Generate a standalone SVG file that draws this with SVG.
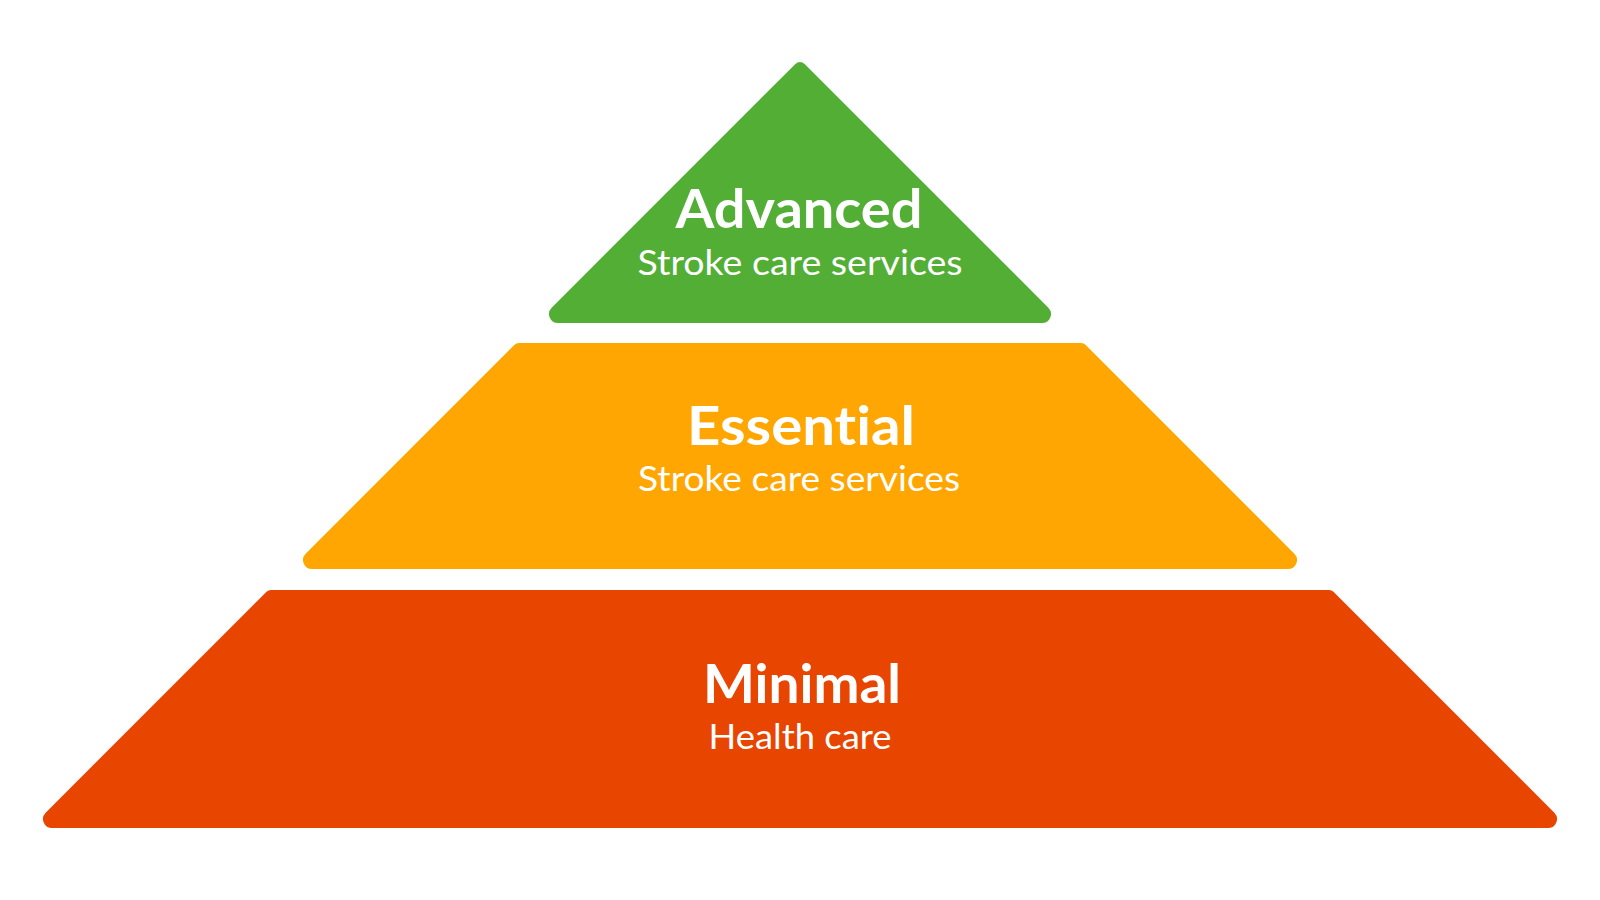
<svg xmlns="http://www.w3.org/2000/svg" width="1600" height="900" viewBox="0 0 1600 900">
  <style>
    text { font-variant-ligatures: none; font-feature-settings: "liga" 0, "clig" 0, "dlig" 0; }
    .title { font-family: Lato, "Open Sans", "Liberation Sans", sans-serif; font-weight: 700; font-size: 54px; fill: #ffffff; text-anchor: middle; }
    .sub { font-family: Lato, "Open Sans", "Liberation Sans", sans-serif; font-weight: 400; font-size: 34px; fill: #ffffff; text-anchor: middle; }
  </style>
  <rect width="1600" height="900" fill="#ffffff"/>
  <g id="advanced">
    <path d="M 795.4 63.9 A 6.5 6.5 0 0 1 804.6 63.9 L 1048.35 307.65 A 9 9 0 0 1 1042 323 L 558 323 A 9 9 0 0 1 551.65 307.65 Z" fill="#52ae34"/>
    <text class="title" x="799" y="228" textLength="247" lengthAdjust="spacingAndGlyphs">Advanced</text>
    <text class="sub" x="800" y="275" textLength="325" lengthAdjust="spacingAndGlyphs">Stroke care services</text>
  </g>
  <g id="essential">
    <path d="M 518.8 343 L 1081.2 343 A 6 6 0 0 1 1085.46 344.76 L 1294.35 553.65 A 9 9 0 0 1 1288 569 L 312 569 A 9 9 0 0 1 305.65 553.65 L 514.54 344.76 A 6 6 0 0 1 518.8 343 Z" fill="#ffa602"/>
    <text class="title" x="801" y="445" textLength="228" lengthAdjust="spacingAndGlyphs">Essential</text>
    <text class="sub" x="799" y="491" textLength="322" lengthAdjust="spacingAndGlyphs">Stroke care services</text>
  </g>
  <g id="minimal">
    <path d="M 270.8 590 L 1329.2 590 A 6 6 0 0 1 1333.46 591.76 L 1554.35 812.65 A 9 9 0 0 1 1548 828 L 52 828 A 9 9 0 0 1 45.65 812.65 L 266.54 591.76 A 6 6 0 0 1 270.8 590 Z" fill="#e84500"/>
    <text class="title" x="802" y="703" textLength="198" lengthAdjust="spacingAndGlyphs">Minimal</text>
    <text class="sub" x="800" y="749" textLength="183" lengthAdjust="spacingAndGlyphs">Health care</text>
  </g>
  <g id="connectors"/>
</svg>
